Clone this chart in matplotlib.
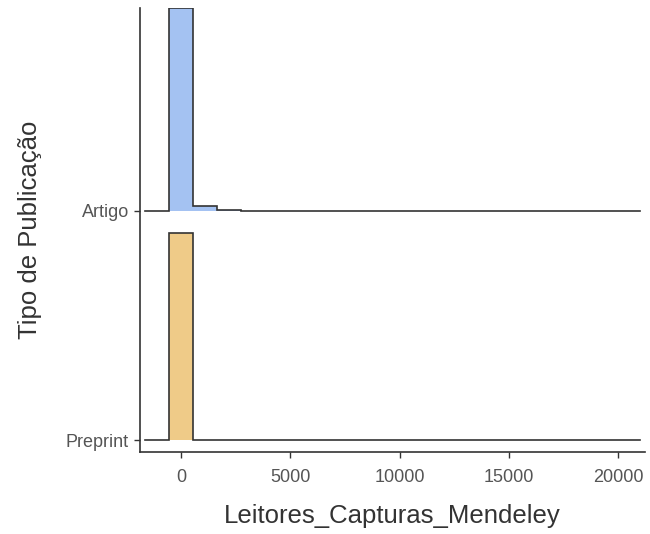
import matplotlib
matplotlib.use("Agg")
import matplotlib.pyplot as plt
import numpy as np

plt.rcParams['font.family'] = ['Liberation Sans', 'DejaVu Sans']

# histogram bins (reads per publication) and relative bar heights per group
bin_edges = np.append(np.arange(-1650, 20351, 1100), 21000)
n_bins = len(bin_edges) - 1
groups = ['Preprint', 'Artigo']
fills = ['#efcb88', '#a4c2f2']
heights = {
    'Artigo': [0.0, 0.885, 0.022, 0.006] + [0.001] * (n_bins - 4),
    'Preprint': [0.0, 0.905, 0.001] + [0.0] * (n_bins - 3),
}

fig = plt.figure(figsize=(6.5, 5.34), dpi=100)
ax = fig.add_axes([0.2154, 0.1536, 0.7769, 0.8314])

# draw top ridge first so lower ones sit over it
for pos in reversed(range(len(groups))):
    g = groups[pos]
    h = np.array(heights[g])
    ax.stairs(h + pos, bin_edges, baseline=pos, fill=True,
              color=fills[pos], linewidth=0, zorder=2 + (1 - pos))
    xs = np.repeat(bin_edges, 2)[1:-1]
    ys = np.repeat(h, 2) + pos
    ax.plot(xs, ys, color='#333333', linewidth=1.2, zorder=3 + (1 - pos),
            solid_joinstyle='miter')

ax.set_xlim(-1875, 21230)
ax.set_ylim(-0.052, 1.886)
ax.set_xticks([0, 5000, 10000, 15000, 20000])
ax.set_yticks(range(len(groups)))
ax.set_yticklabels(groups)

for s in ['top', 'right']:
    ax.spines[s].set_visible(False)
for s in ['left', 'bottom']:
    ax.spines[s].set_color('#333333')
    ax.spines[s].set_linewidth(1.2)
ax.tick_params(axis='both', colors='#333333', labelcolor='#555555',
               labelsize=13, length=4, width=1, pad=4)
ax.tick_params(axis='x', pad=8.5)

ax.set_xlabel('Leitores_Capturas_Mendeley', fontsize=18.5, color='#333333', labelpad=12.5)
ax.set_ylabel('Tipo de Publicação', fontsize=18.5, color='#333333', labelpad=17)

fig.savefig('out.png', dpi=100, facecolor='white')
